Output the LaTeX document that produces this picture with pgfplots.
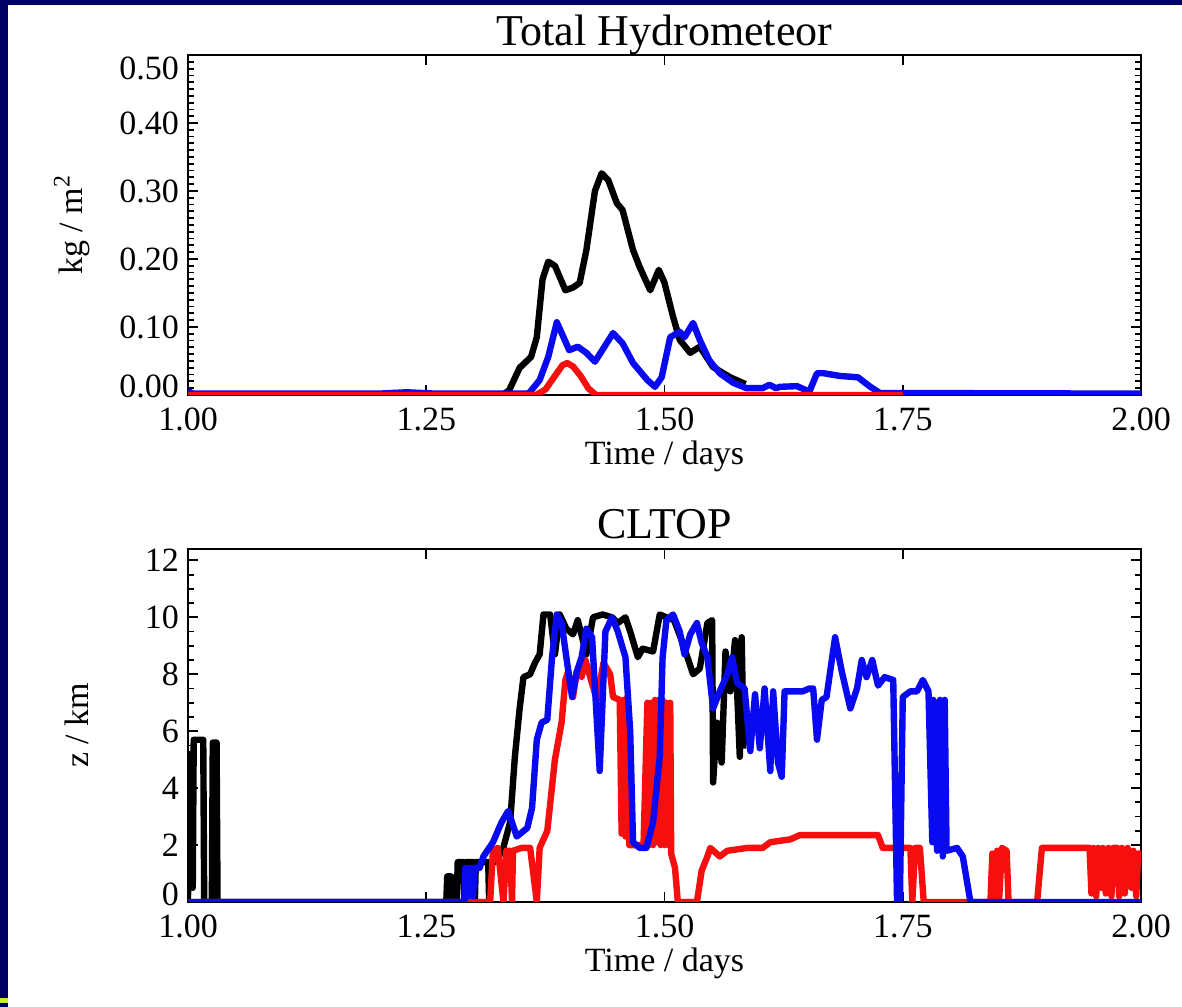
\documentclass[border=0pt]{standalone}
\usepackage{pgfplots}
\pgfplotsset{compat=1.18}
\usepackage{fontspec}
\setmainfont{Liberation Serif}
\definecolor{navyframe}{RGB}{0,0,100}
\definecolor{ygreen}{RGB}{200,235,60}
\definecolor{pblue}{RGB}{10,10,240}
\definecolor{pred}{RGB}{245,15,15}
\pgfplotsset{
  idl/.style={
    scale only axis,
    xmin=1, xmax=2,
    axis line style={line width=1bp},
    tick style={black, line width=0.9bp},
    tick align=inside,
    major tick length=5bp,
    minor tick length=3bp,
    xtick={1,1.25,1.5,1.75,2},
    xticklabels={1.00,1.25,1.50,1.75,2.00},
    tick label style={font=\fontsize{17bp}{20bp}\selectfont},
    label style={font=\fontsize{17bp}{20bp}\selectfont},
    every axis title/.style={at={(0.5,1)}, anchor=base, inner sep=0pt, yshift=5bp,
      font=\fontsize{22bp}{26bp}\selectfont},
    xlabel={Time / days},
    xticklabel style={yshift=-3bp},
    xlabel style={yshift=2bp},
    yticklabel style={xshift=-1bp},
    /pgf/number format/assume math mode=true,
    every axis plot/.append style={line width=3.2bp, line join=round},
    clip=true,
  }
}
\begin{document}
\begin{tikzpicture}
\fill[navyframe] (0bp,0bp) rectangle (591bp,503.5bp);
\fill[white] (4bp,0bp) rectangle (591bp,501bp);
\fill[ygreen] (0bp,2bp) rectangle (4bp,4.5bp);

\begin{axis}[idl,
  at={(94bp,306bp)}, anchor=south west,
  width=476.5bp, height=170bp,
  ymin=0, ymax=0.5,
  ytick={0,0.1,0.2,0.3,0.4,0.5},
  yticklabels={\smash{\raisebox{-1.5bp}{0.00}},0.10,0.20,0.30,0.40,\smash{\raisebox{-12bp}{0.50}}},
  minor y tick num=9,
  title={Total Hydrometeor},
  ylabel={kg / m\textsuperscript{2}},
  every axis y label/.style={at={(axis description cs:-0.122,0.5)}, rotate=90, anchor=center,
    font=\fontsize{17bp}{20bp}\selectfont},
]
\addplot[black] coordinates {
(1.0,0) (1.33,0) (1.337,0.007) (1.348,0.04) (1.36,0.056) (1.366,0.085) (1.372,0.17) (1.378,0.196) (1.385,0.19) (1.396,0.154) (1.404,0.158) (1.411,0.165) (1.418,0.213) (1.427,0.30) (1.434,0.326) (1.441,0.316) (1.450,0.282) (1.456,0.272) (1.467,0.213) (1.474,0.188) (1.485,0.154) (1.494,0.184) (1.500,0.165) (1.509,0.115) (1.516,0.081) (1.527,0.062) (1.537,0.071) (1.551,0.041) (1.569,0.026) (1.585,0.016)
};
\addplot[pblue] coordinates {
(1.0,0.006) (1.005,0.002) (1.2,0.002) (1.23,0.004) (1.26,0.002) (1.355,0.002) (1.358,0.003) (1.369,0.022) (1.378,0.056) (1.387,0.107) (1.394,0.085) (1.400,0.066) (1.409,0.071) (1.418,0.062) (1.427,0.049) (1.437,0.071) (1.446,0.091) (1.456,0.076) (1.467,0.047) (1.482,0.022) (1.490,0.012) (1.497,0.026) (1.506,0.085) (1.516,0.093) (1.521,0.085) (1.530,0.106) (1.537,0.081) (1.547,0.051) (1.558,0.032) (1.572,0.018) (1.586,0.010) (1.603,0.010) (1.610,0.015) (1.617,0.010) (1.621,0.012) (1.639,0.013) (1.652,0.005) (1.660,0.032) (1.667,0.032) (1.684,0.028) (1.703,0.026) (1.716,0.012) (1.726,0.003) (2.0,0.002)
};
\addplot[pred] coordinates {
(1.0,0) (1.365,0) (1.375,0.008) (1.385,0.028) (1.393,0.044) (1.398,0.047) (1.404,0.042) (1.412,0.028) (1.420,0.010) (1.428,0) (1.6,0) (1.75,0)
};
\end{axis}

\begin{axis}[idl,
  at={(94bp,52.5bp)}, anchor=south west,
  width=476.5bp, height=176.5bp,
  ymin=0, ymax=12.4,
  ytick={0,2,4,6,8,10,12},
  yticklabels={\smash{\raisebox{-1.5bp}{0}},2,4,6,8,10,12},
  minor y tick num=3,
  title={CLTOP},
  ylabel={z / km},
  every axis y label/.style={at={(axis description cs:-0.117,0.5)}, rotate=90, anchor=center,
    font=\fontsize{17bp}{20bp}\selectfont},
]
\addplot[black] coordinates {
(1.000,0) (1.001,5.2) (1.004,5.2) (1.005,0.5) (1.006,5.7) (1.016,5.7) (1.017,0) (1.025,0) (1.026,5.6) (1.030,5.6) (1.031,0) (1.271,0) (1.272,0.9) (1.276,0.9) (1.277,0) (1.282,0) (1.283,1.4) (1.289,1.4) (1.290,0) (1.291,1.4) (1.300,1.4) (1.301,0) (1.302,1.4) (1.315,1.4) (1.316,0) (1.317,1.4) (1.322,1.4) (1.330,1.8) (1.338,2.8) (1.343,5.1) (1.348,6.8) (1.352,7.9) (1.359,8.0) (1.364,8.4) (1.369,8.7) (1.373,10.1) (1.380,10.1) (1.385,8.7) (1.390,10.1) (1.397,9.6) (1.404,9.4) (1.409,9.9) (1.418,8.7) (1.425,10.0) (1.435,10.1) (1.445,10.0) (1.451,9.8) (1.459,10.0) (1.464,9.5) (1.472,8.6) (1.477,8.9) (1.488,8.8) (1.495,10.1) (1.502,10.0) (1.510,9.9) (1.519,9.1) (1.530,8.0) (1.537,8.2) (1.545,9.8) (1.550,9.9) (1.551,4.2) (1.555,6.3) (1.560,4.9) (1.564,8.8) (1.569,7.4) (1.574,9.2) (1.579,5.1) (1.581,9.3) (1.583,5.5) (1.586,5.5)
};
\addplot[pred] coordinates {
(1.0,0) (1.317,0) (1.320,1.8) (1.325,1.9) (1.331,0) (1.334,1.8) (1.338,1.8) (1.340,0) (1.341,1.8) (1.350,1.9) (1.359,1.9) (1.366,0) (1.369,1.9) (1.377,2.5) (1.385,5.0) (1.392,6.3) (1.396,7.8) (1.399,8.1) (1.404,7.2) (1.408,8.1) (1.413,7.9) (1.417,8.5) (1.422,7.9) (1.429,7.1) (1.436,8.4) (1.443,8.0) (1.446,7.2) (1.453,7.1) (1.455,2.4) (1.457,7.1) (1.459,2.3) (1.461,7.2) (1.463,2.0) (1.470,2.0) (1.478,2.0) (1.482,7.0) (1.484,2.0) (1.486,7.0) (1.488,2.0) (1.490,7.1) (1.492,2.1) (1.494,7.1) (1.496,2.0) (1.498,7.1) (1.500,2.0) (1.502,7.0) (1.504,2.0) (1.506,7.0) (1.507,1.7) (1.511,1.2) (1.514,0) (1.534,0) (1.539,1.1) (1.545,1.6) (1.548,1.9) (1.558,1.6) (1.566,1.8) (1.587,1.9) (1.603,1.9) (1.611,2.1) (1.632,2.2) (1.642,2.35) (1.724,2.35) (1.729,1.9) (1.758,1.9) (1.760,0) (1.763,1.9) (1.768,1.9) (1.772,0) (1.842,0) (1.844,1.7) (1.846,0) (1.849,1.8) (1.851,0) (1.854,1.9) (1.859,1.8) (1.861,0) (1.891,0) (1.896,1.9) (1.946,1.9) (1.948,0.3) (1.950,1.9) (1.953,0.2) (1.955,1.9) (1.958,0.5) (1.960,1.9) (1.963,0.3) (1.966,1.9) (1.969,0.2) (1.971,1.9) (1.975,1.9) (1.977,0.2) (1.980,1.9) (1.983,0.3) (1.986,1.9) (1.990,0.5) (1.992,1.8) (1.995,0.2) (1.997,1.7) (2.0,1.7)
};
\addplot[pblue] coordinates {
(1.0,0) (1.290,0) (1.291,1.2) (1.294,0.2) (1.296,1.2) (1.299,0.2) (1.301,1.2) (1.306,1.2) (1.310,1.6) (1.320,2.1) (1.329,2.8) (1.336,3.2) (1.345,2.3) (1.356,2.6) (1.361,3.3) (1.366,5.7) (1.371,6.3) (1.377,6.4) (1.382,8.6) (1.387,10.1) (1.392,9.8) (1.397,8.6) (1.403,7.2) (1.408,8.1) (1.413,8.6) (1.418,9.6) (1.424,9.3) (1.432,4.6) (1.438,9.5) (1.445,10.0) (1.451,9.5) (1.459,8.6) (1.464,6.0) (1.467,2.1) (1.474,1.9) (1.481,1.9) (1.488,2.8) (1.495,5.1) (1.498,8.6) (1.502,9.9) (1.509,10.1) (1.516,9.5) (1.521,8.7) (1.527,9.4) (1.534,9.8) (1.539,9.1) (1.545,8.6) (1.551,6.8) (1.558,7.4) (1.566,8.0) (1.571,8.6) (1.576,7.7) (1.584,7.5) (1.590,5.3) (1.595,7.3) (1.600,5.4) (1.605,7.5) (1.611,4.6) (1.614,7.4) (1.619,4.9) (1.623,4.4) (1.626,7.4) (1.632,7.4) (1.639,7.4) (1.645,7.4) (1.652,7.5) (1.656,7.5) (1.660,5.7) (1.665,7.1) (1.670,7.2) (1.679,9.3) (1.686,8.1) (1.695,6.8) (1.702,7.5) (1.707,8.5) (1.712,7.9) (1.718,8.5) (1.724,7.6) (1.731,7.9) (1.740,7.8) (1.744,0) (1.747,0) (1.750,7.2) (1.758,7.4) (1.765,7.4) (1.771,7.8) (1.777,7.4) (1.781,2.1) (1.782,7.1) (1.786,1.8) (1.789,7.1) (1.792,1.6) (1.794,7.1) (1.796,1.8) (1.807,1.9) (1.813,1.6) (1.821,0) (2.0,0)
};
\end{axis}
\end{tikzpicture}
\end{document}
